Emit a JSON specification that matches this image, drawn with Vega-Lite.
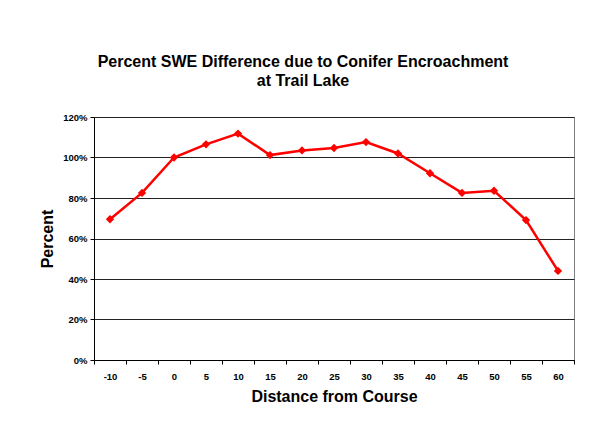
{
  "$schema": "https://vega.github.io/schema/vega-lite/v6.json",
  "autosize": "none",
  "width": 480,
  "height": 243,
  "padding": {"left": 94, "top": 117, "right": 26, "bottom": 87},
  "background": "white",
  "title": {
    "text": ["Percent SWE Difference due to Conifer Encroachment", "at Trail Lake"],
    "font": "Liberation Sans",
    "fontSize": 16,
    "fontWeight": "bold",
    "color": "black",
    "lineHeight": 19.5,
    "anchor": "middle",
    "dx": -31,
    "offset": 23
  },
  "data": {
    "values": [
      {"distance": "-10", "percent": 0.695},
      {"distance": "-5", "percent": 0.825},
      {"distance": "0", "percent": 1.0},
      {"distance": "5", "percent": 1.065},
      {"distance": "10", "percent": 1.118},
      {"distance": "15", "percent": 1.012},
      {"distance": "20", "percent": 1.035},
      {"distance": "25", "percent": 1.047},
      {"distance": "30", "percent": 1.076},
      {"distance": "35", "percent": 1.02},
      {"distance": "40", "percent": 0.922},
      {"distance": "45", "percent": 0.825},
      {"distance": "50", "percent": 0.836},
      {"distance": "55", "percent": 0.691},
      {"distance": "60", "percent": 0.44}
    ]
  },
  "encoding": {
    "x": {
      "field": "distance",
      "type": "ordinal",
      "sort": null,
      "scale": {"paddingInner": 0, "paddingOuter": 0},
      "axis": {
        "title": "Distance from Course",
        "titleFont": "Liberation Sans",
        "titleFontSize": 16,
        "titleFontWeight": "bold",
        "titleColor": "black",
        "titlePadding": 8,
        "labelFont": "Liberation Sans",
        "labelFontSize": 9.5,
        "labelFontWeight": "bold",
        "labelColor": "black",
        "labelAngle": 0,
        "labelPadding": 7,
        "tickBand": "extent",
        "tickColor": "black",
        "tickSize": 4,
        "domainColor": "black",
        "grid": false
      }
    },
    "y": {
      "field": "percent",
      "type": "quantitative",
      "scale": {"domain": [0, 1.2], "nice": false},
      "axis": {
        "title": "Percent",
        "titleFont": "Liberation Sans",
        "titleFontSize": 16,
        "titleFontWeight": "bold",
        "titleColor": "black",
        "titlePadding": 7,
        "format": ".0%",
        "values": [0, 0.2, 0.4, 0.6, 0.8, 1.0, 1.2],
        "labelFont": "Liberation Sans",
        "labelFontSize": 9.5,
        "labelFontWeight": "bold",
        "labelColor": "black",
        "labelPadding": 3,
        "tickColor": "black",
        "tickSize": 4,
        "domainColor": "black",
        "grid": true,
        "gridColor": "#222222",
        "gridOpacity": 1,
        "gridWidth": 1
      }
    }
  },
  "layer": [
    {
      "mark": {"type": "line", "color": "#FF0000", "strokeWidth": 2.5}
    },
    {
      "mark": {"type": "point", "shape": "diamond", "filled": true, "color": "#FF0000", "size": 70, "opacity": 1}
    }
  ],
  "config": {
    "view": {"stroke": "#808080", "strokeWidth": 1}
  }
}
